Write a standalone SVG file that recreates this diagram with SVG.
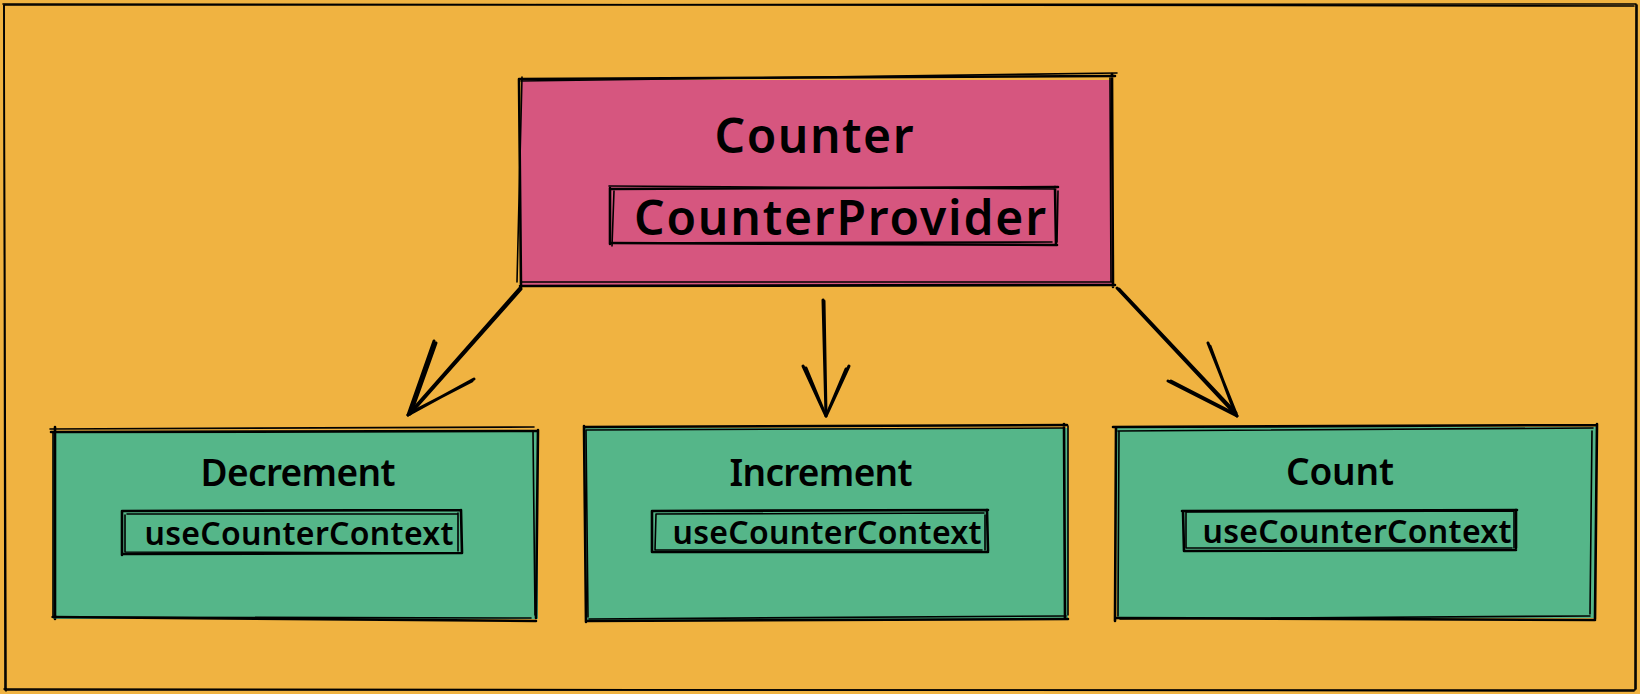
<svg xmlns="http://www.w3.org/2000/svg" width="1640" height="694" viewBox="0 0 1640 694">
<style>
.s{fill:none;stroke:#000;stroke-width:2.6;stroke-linecap:round;stroke-linejoin:round}
.t{stroke-width:1.6}
.a{fill:none;stroke:#000;stroke-width:3;stroke-linecap:round}
.lbl{font-family:"Noto Sans","Open Sans",sans-serif;font-weight:600;fill:#000;text-anchor:middle}
</style>
<rect x="0" y="0" width="1640" height="694" fill="#f0b341"/>
<g id="frame">
<path class="s t" d="M4 5 L1636 4 L1635 690 L5 690 Z"/>
<path class="s t" d="M3 4 L1634 6 M1637 5 L1636 689 M1634 691 L4 689 M6 691 L4 5"/>
</g>
<g id="counter">
<rect x="521" y="80" width="592" height="206" fill="#d6567f"/>
<path class="s" d="M519 79 L1115 76 M1112 74 L1113 287 M1115 285 L520 286 M521 288 L519 79"/>
<path class="s t" d="M521 81 L1117 73 M1110 78 L1111 282 M1113 282 L522 282 M517 282 L522 77"/>
<text class="lbl" x="814" y="153" font-size="48" textLength="199">Counter</text>
<g id="counter-provider">
<path class="s" d="M611 189 L1058 187 M1055 187 L1056 244 M1057 245 L612 243 M610 244 L610 188"/>
<path class="s t" d="M609 186 L1054 189 M1058 191 L1057 242 M1052 242 L610 243 M612 246 L614 191"/>
<text class="lbl" x="840" y="235" font-size="48" textLength="412">CounterProvider</text>
</g>
</g>
<g id="decrement">
<rect x="53" y="431" width="485" height="188" fill="#55b689"/>
<path class="s" d="M51 432 L538 431 M538 430 L536 618 M536 621 L53 617 M55 619 L55 427"/>
<path class="s t" d="M50 429 L534 427 M533 432 L535 615 M531 618 L52 617 M53 617 L53 432"/>
<text class="lbl" x="298" y="486" font-size="37" textLength="195">Decrement</text>
<g id="decrement-ctx">
<path class="s" d="M123 511 L461 510 M461 510 L462 553 M462 553 L123 554 M122 555 L122 511"/>
<path class="s t" d="M127 514 L458 514 M458 513 L458 551 M456 553 L125 552 M125 552 L125 515"/>
<text class="lbl" x="299" y="545" font-size="32" font-weight="500" textLength="309">useCounterContext</text>
</g>
</g>
<g id="increment">
<rect x="585" y="428" width="483" height="192" fill="#55b689"/>
<path class="s" d="M584 427 L1067 425 M1064 424 L1065 618 M1068 619 L587 621 M586 622 L584 426"/>
<path class="s t" d="M586 430 L1063 428 M1068 426 L1068 615 M1066 616 L589 619 M588 617 L586 430"/>
<text class="lbl" x="821" y="486" font-size="37" textLength="183">Increment</text>
<g id="increment-ctx">
<path class="s" d="M652 511 L988 510 M987 510 L988 551 M988 552 L653 552 M652 552 L652 511"/>
<path class="s t" d="M656 514 L984 513 M985 515 L985 550 M982 550 L656 550 M655 550 L656 514"/>
<text class="lbl" x="827" y="544" font-size="32" font-weight="500" textLength="309">useCounterContext</text>
</g>
</g>
<g id="count">
<rect x="1117" y="427" width="479" height="191" fill="#55b689"/>
<path class="s" d="M1113 427 L1597 425 M1597 424 L1595 619 M1595 620 L1117 618 M1115 621 L1116 428"/>
<path class="s t" d="M1118 431 L1593 428 M1592 431 L1590 614 M1590 616 L1120 619 M1118 616 L1119 431"/>
<text class="lbl" x="1340" y="485" font-size="37" textLength="108">Count</text>
<g id="count-ctx">
<path class="s" d="M1182 511 L1517 510 M1516 510 L1516 548 M1516 550 L1184 551 M1184 551 L1183 511"/>
<path class="s t" d="M1186 512 L1514 511 M1514 512 L1514 548 M1512 548 L1186 548 M1186 548 L1186 512"/>
<text class="lbl" x="1357" y="543" font-size="32" font-weight="500" textLength="309">useCounterContext</text>
</g>
</g>
<g id="connectors">
<path class="a" d="M520 288 L408 415 M521 289 L410 414"/>
<path class="a" d="M434 341 L408 415 M436 343 L411 413 M474 379 L408 415 M472 381 L410 413"/>
<path class="a" d="M823 300 L826 416 M824 301 L826 415"/>
<path class="a" d="M803 366 L826 416 M806 368 L825 414 M849 366 L826 416 M846 369 L827 414"/>
<path class="a" d="M1117 288 L1237 416 M1119 289 L1236 413"/>
<path class="a" d="M1208 343 L1237 416 M1210 346 L1235 413 M1168 381 L1237 416 M1171 381 L1235 414"/>
</g>
</svg>
